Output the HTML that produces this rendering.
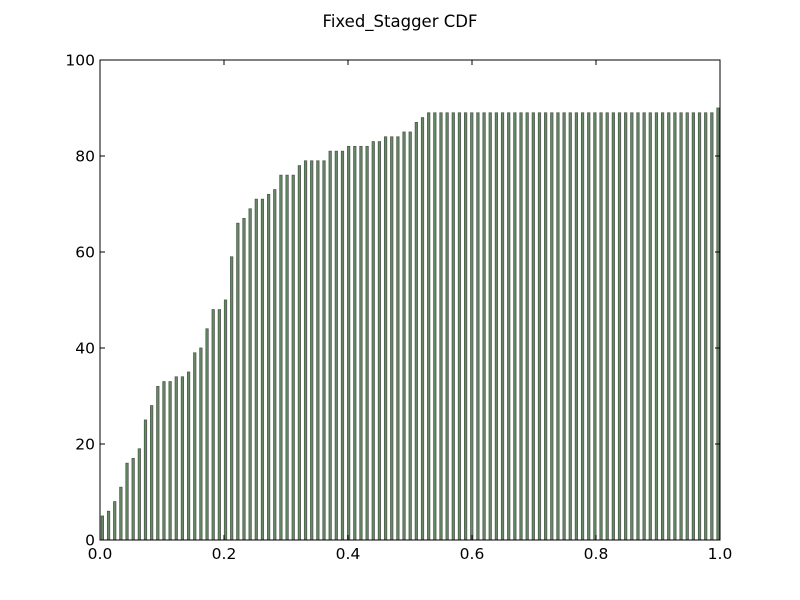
<!DOCTYPE html>
<html><head><meta charset="utf-8"><style>body{margin:0;background:#fff}svg{display:block;font-family:"DejaVu Sans","Liberation Sans",sans-serif}</style></head>
<body>
<svg id="chart" width="800" height="600" xmlns="http://www.w3.org/2000/svg">
<rect width="800" height="600" fill="#fff"/>
<text x="400" y="27" font-size="16.5" text-anchor="middle">Fixed_Stagger CDF</text>
<g id="bars"></g>
<g id="axes"></g>
</svg>
<script>
const values = [5,6,8,11,16,17,19,25,28,32,33,33,34,34,35,39,40,44,48,48,50,59,66,67,69,71,71,72,73,76,76,76,78,79,79,79,79,81,81,81,82,82,82,82,83,83,84,84,84,85,85,87,88,89,89,89,89,89,89,89,89,89,89,89,89,89,89,89,89,89,89,89,89,89,89,89,89,89,89,89,89,89,89,89,89,89,89,89,89,89,89,89,89,89,89,89,89,89,89,89,90];
const xTicks = [0.0,0.2,0.4,0.6,0.8,1.0];
const yTicks = [0,20,40,60,80,100];
const X0=100,X1=720,Y0=540,Y1=60;
const xs=v=>X0+(v-0)/(1-0)*(X1-X0);
const ys=v=>Y0-(v/100)*(Y0-Y1);
const NS="http://www.w3.org/2000/svg";
const bars=document.getElementById('bars');
const step=(xs(1)-xs(0)-4.4)/(values.length-1);
values.forEach((v,i)=>{
  const r=document.createElementNS(NS,'rect');
  const x=X0+1.2+i*step;
  r.setAttribute('x',x);r.setAttribute('y',ys(v));
  r.setAttribute('width',2.4);r.setAttribute('height',Y0-ys(v));
  r.setAttribute('fill','#5f8f5f');r.setAttribute('stroke','#555');r.setAttribute('stroke-width','0.8');
  
  
  bars.appendChild(r);
});
const ax=document.getElementById('axes');
const fr=document.createElementNS(NS,'rect');
fr.setAttribute('x',X0);fr.setAttribute('y',Y1);fr.setAttribute('width',X1-X0);fr.setAttribute('height',Y0-Y1);
fr.setAttribute('fill','none');fr.setAttribute('stroke','#000');fr.setAttribute('stroke-width','1');


ax.appendChild(fr);
function line(x1,y1,x2,y2){const l=document.createElementNS(NS,'line');l.setAttribute('x1',x1);l.setAttribute('y1',y1);l.setAttribute('x2',x2);l.setAttribute('y2',y2);l.setAttribute('stroke','#000');ax.appendChild(l);return l;}
xTicks.forEach(t=>{
  const x=xs(t);
  const a=line(x,Y0,x,Y0-5);
  const b=line(x,Y1,x,Y1+5);
  const tx=document.createElementNS(NS,'text');tx.setAttribute('x',x);tx.setAttribute('y',Y0+19);tx.setAttribute('font-size','15.5');tx.setAttribute('text-anchor','middle');tx.textContent=t.toFixed(1);
  
  
  ax.appendChild(tx);
});
yTicks.forEach(t=>{
  const y=ys(t);
  const a=line(X0,y,X0+5,y);
  const b=line(X1,y,X1-5,y);
  const tx=document.createElementNS(NS,'text');tx.setAttribute('x',X0-5);tx.setAttribute('y',y+5.5);tx.setAttribute('font-size','15.5');tx.setAttribute('text-anchor','end');tx.textContent=t;
  
  
  ax.appendChild(tx);
});
</script>
</body></html>
